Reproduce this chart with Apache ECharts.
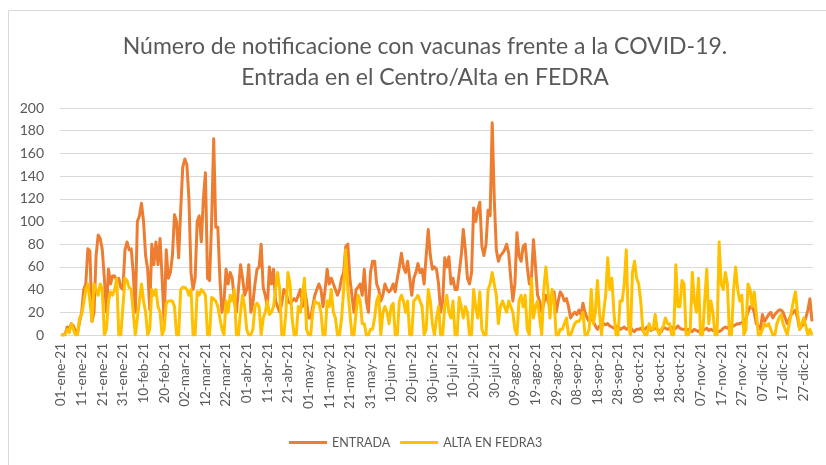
<!DOCTYPE html>
<html>
<head>
<meta charset="utf-8">
<script src="https://cdn.jsdelivr.net/npm/echarts@6/dist/echarts.min.js"></script>
<style>
  html, body { margin: 0; padding: 0; background: #fff; }
  #chart { width: 826px; height: 465px; }
</style>
</head>
<body>
<div id="chart"></div>
<script>
const mesesCortos = ["ene", "feb", "mar", "abr", "may", "jun", "jul", "ago", "sep", "oct", "nov", "dic"];
const diasMes = [31, 28, 31, 30, 31, 30, 31, 31, 30, 31, 30, 31];

// fechas diarias 2021 (dd-mmm-21)
const fechas = [];
diasMes.forEach((n, m) => {
  for (let d = 1; d <= n; d++) {
    fechas.push(String(d).padStart(2, "0") + "-" + mesesCortos[m] + "-21");
  }
});

const entrada = [
  0, 0, 1, 7, 5, 10, 8, 3, 2, 12,
  20, 40, 45, 76, 74, 12, 20, 70, 88, 85,
  75, 50, 20, 58, 45, 52, 52, 48, 50, 42,
  40, 75, 82, 75, 76, 55, 20, 100, 105, 116,
  100, 70, 58, 22, 80, 62, 82, 62, 85, 50,
  10, 75, 50, 55, 70, 106, 100, 68, 110, 148,
  155, 150, 120, 55, 40, 50, 100, 105, 82, 120,
  143, 50, 48, 100, 173, 95, 95, 50, 20, 30,
  58, 45, 55, 50, 30, 20, 40, 62, 50, 35,
  40, 62, 20, 28, 45, 58, 60, 80, 42, 35,
  25, 60, 45, 58, 30, 25, 20, 28, 40, 38,
  30, 28, 30, 32, 30, 35, 40, 25, 40, 30,
  15, 15, 25, 35, 40, 45, 40, 25, 40, 58,
  45, 50, 45, 40, 35, 40, 50, 55, 78, 80,
  50, 35, 20, 40, 42, 45, 35, 58, 30, 20,
  55, 65, 65, 45, 40, 30, 35, 45, 40, 38,
  40, 45, 38, 50, 60, 72, 60, 55, 65, 50,
  35, 50, 55, 63, 55, 58, 45, 70, 93, 70,
  58, 60, 58, 45, 20, 30, 68, 60, 69, 45,
  50, 40, 40, 55, 70, 93, 75, 50, 45, 55,
  112, 100, 110, 117, 78, 70, 80, 110, 105, 187,
  120, 75, 65, 70, 72, 75, 80, 72, 50, 30,
  45, 90, 70, 65, 78, 80, 60, 45, 50, 84,
  60, 35, 30, 20, 28, 35, 30, 25, 35, 38,
  20, 30, 38, 35, 30, 32, 25, 15, 18, 20,
  18, 22, 18, 28, 20, 15, 12, 15, 12, 8,
  5, 8, 8, 10, 9, 10, 8, 7, 6, 7,
  8, 5, 6, 7, 5, 6, 7, 4, 3, 5,
  5, 6, 4, 5, 7, 6, 4, 5, 6, 5,
  4, 3, 7, 6, 5, 6, 7, 5, 6, 8,
  6, 5, 5, 4, 5, 4, 3, 5, 4, 3,
  5, 4, 5, 6, 4, 5, 4, 5, 3, 3,
  4, 6, 7, 6, 8, 7, 8, 9, 10, 10,
  11, 10, 15, 20, 25, 25, 20, 10, 8, 5,
  18, 12, 15, 18, 20, 15, 18, 20, 22, 22,
  20, 15, 10, 14, 18, 20, 22, 15, 5, 8,
  10, 15, 22, 32, 12
];

const altaFedra = [
  0, 0, 0, 5, 2, 10, 5, 0, 0, 15,
  18, 28, 40, 45, 30, 12, 45, 40, 35, 45,
  40, 0, 5, 30, 38, 35, 40, 50, 0, 0,
  25, 50, 48, 42, 40, 20, 0, 15, 30, 45,
  30, 20, 0, 5, 40, 35, 40, 25, 20, 0,
  5, 28, 30, 30, 30, 25, 0, 0, 40, 42,
  42, 40, 35, 40, 0, 0, 38, 35, 40, 38,
  35, 0, 0, 33, 32, 30, 25, 15, 5, 0,
  30, 20, 35, 30, 40, 0, 0, 20, 35, 25,
  5, 0, 0, 5, 25, 28, 25, 0, 15, 20,
  30, 18, 20, 25, 40, 55, 40, 0, 0, 20,
  55, 45, 15, 0, 0, 25, 20, 35, 50, 5,
  0, 0, 20, 30, 28, 28, 20, 0, 0, 30,
  25, 40, 20, 15, 0, 0, 15, 40, 75, 40,
  20, 0, 0, 20, 35, 30, 10, 10, 0, 0,
  5, 5, 15, 30, 35, 0, 20, 25, 20, 10,
  25, 28, 0, 0, 30, 35, 30, 20, 30, 0,
  0, 30, 32, 35, 30, 25, 0, 5, 40, 30,
  10, 0, 15, 25, 0, 0, 25, 35, 20, 15,
  30, 0, 0, 33, 25, 15, 25, 20, 0, 0,
  40, 25, 15, 38, 5, 0, 0, 40, 45, 55,
  45, 35, 10, 25, 30, 25, 20, 30, 25, 20,
  5, 0, 30, 35, 25, 35, 5, 0, 50, 15,
  25, 30, 15, 0, 40, 60, 40, 15, 40, 30,
  0, 0, 5, 5, 10, 15, 0, 0, 5, 10,
  12, 12, 15, 20, 0, 0, 5, 40, 10, 20,
  48, 20, 0, 20, 35, 68, 40, 50, 20, 0,
  0, 30, 30, 45, 75, 10, 0, 55, 65, 50,
  45, 30, 5, 0, 0, 10, 5, 5, 18, 5,
  0, 5, 8, 15, 10, 10, 0, 0, 62, 25,
  25, 48, 45, 0, 0, 5, 55, 30, 20, 50,
  0, 0, 30, 58, 10, 30, 20, 0, 0, 82,
  45, 40, 55, 45, 0, 0, 40, 60, 40, 30,
  35, 0, 5, 45, 40, 25, 38, 20, 0, 0,
  5, 10, 8, 10, 5, 0, 0, 10, 15, 18,
  10, 5, 0, 10, 20, 30, 38, 20, 5, 10,
  15, 8, 0, 5, 0
];

const chart = echarts.init(document.getElementById("chart"));
const gris = "#595959";
const fuente = "Lato, 'Open Sans', sans-serif";

const option = {
  animation: false,
  textStyle: { fontFamily: fuente },
  color: ["#ED7D31", "#FFC000"],
  graphic: [
    {
      type: "rect",
      shape: { x: 8.5, y: 10.5, width: 840, height: 480 },
      style: { fill: "none", stroke: "#d9d9d9", lineWidth: 1 },
      silent: true,
    },
  ],
  title: {
    text: "Número de notificacione con vacunas frente a la COVID-19.\nEntrada en el Centro/Alta en FEDRA",
    left: 420,
    top: 26,
    textAlign: "center",
    textStyle: {
      color: gris,
      fontFamily: fuente,
      fontSize: 23,
      fontWeight: "normal",
      lineHeight: 31,
    },
  },
  legend: {
    bottom: 11,
    left: 284,
    itemWidth: 38,
    itemHeight: 3,
    itemGap: 10,
    icon: "rect",
    textStyle: { color: gris, fontSize: 12.5, fontFamily: fuente },
    data: ["ENTRADA", "ALTA EN FEDRA3"],
  },
  grid: {
    left: 60,
    right: 13,
    top: 108,
    bottom: 130,
  },
  xAxis: {
    type: "category",
    data: fechas,
    boundaryGap: true,
    axisLine: { lineStyle: { color: "#d9d9d9" } },
    axisTick: { show: false },
    axisLabel: {
      interval: 9,
      rotate: 90,
      color: gris,
      fontSize: 13.5,
      margin: 8,
      fontFamily: fuente,
    },
  },
  yAxis: {
    type: "value",
    min: 0,
    max: 200,
    interval: 20,
    axisLabel: { color: gris, fontSize: 14, margin: 16, fontFamily: fuente },
    splitLine: { lineStyle: { color: "#d9d9d9" } },
    axisLine: { show: false },
    axisTick: { show: false },
  },
  series: [
    {
      name: "ENTRADA",
      type: "line",
      data: entrada,
      showSymbol: false,
      smooth: false,
      lineStyle: { width: 3, color: "#ED7D31", join: "round" },
    },
    {
      name: "ALTA EN FEDRA3",
      type: "line",
      data: altaFedra,
      showSymbol: false,
      smooth: false,
      lineStyle: { width: 3, color: "#FFC000", join: "round" },
    },
  ],
};

chart.setOption(option);
</script>
</body>
</html>
